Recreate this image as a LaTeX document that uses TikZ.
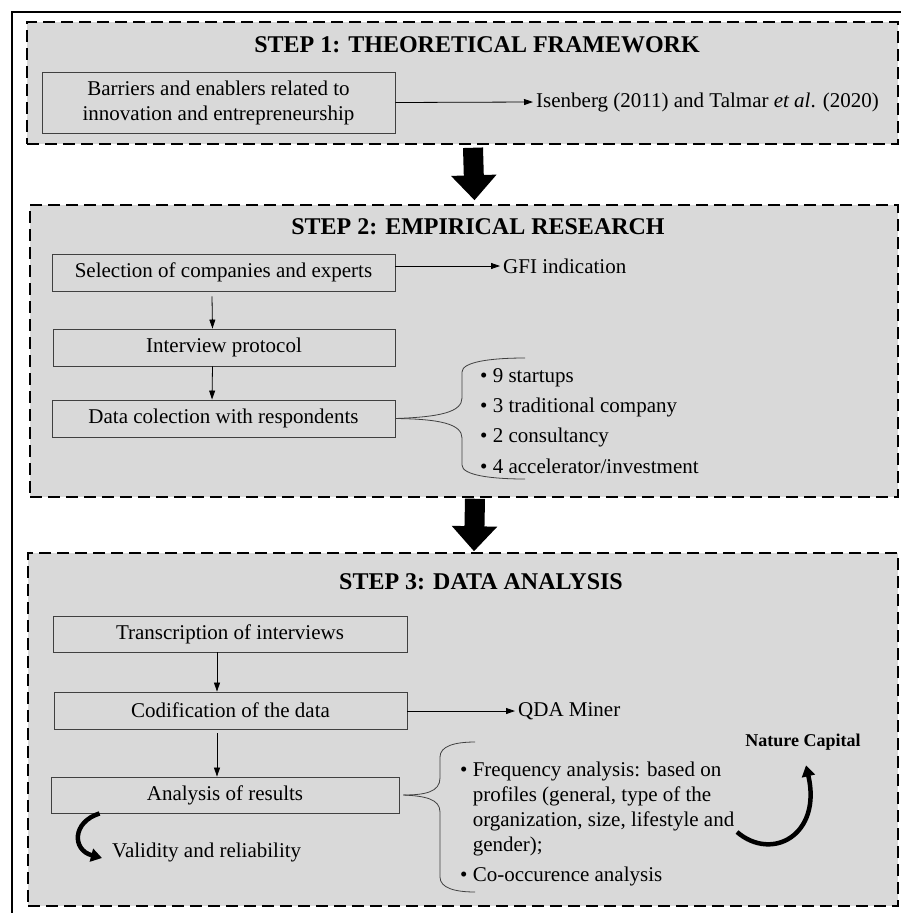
\documentclass[tikz,border=0pt]{standalone}
\usepackage{fontspec}
\setmainfont{Liberation Serif}
\usetikzlibrary{arrows.meta,calc}
\definecolor{panelgray}{HTML}{D9D9D9}
\definecolor{boxline}{HTML}{404040}
\begin{document}
\begin{tikzpicture}[x=1pt,y=-1pt,
    stepframe/.style={draw, fill=panelgray, dash pattern=on 12pt off 6pt, line width=1.5pt, inner sep=0},
    stepbox/.style={draw=boxline, line width=0.9pt, inner sep=0, align=center, font=\fontsize{21}{25}\selectfont},
    steptitle/.style={inner sep=0, font=\fontsize{24}{28}\selectfont\bfseries},
    txt/.style={inner sep=3pt, font=\fontsize{21}{25}\selectfont},
    flow/.style={line width=0.8pt, -{Triangle[length=9pt,width=6pt]}},
    bigarrow/.style={line width=20pt, -{Triangle[length=25pt,width=44pt]}},
    curl/.style={line width=4.5pt, -{Triangle[length=11pt,width=13pt]}},
    bracepath/.style={line width=0.8pt, draw=boxline}]
    \useasboundingbox (0,0) rectangle (901,913);
    \draw[line width=1.5pt] (12,930) |- (920,12);

    \node[stepframe, minimum width=871pt, minimum height=122pt] (frame1) at (462.5,83) {};
    \node[stepframe, minimum width=868pt, minimum height=292pt] (frame2) at (464,351) {};
    \node[stepframe, minimum width=870pt, minimum height=353pt] (frame3) at (463,729.5) {};

    \node[steptitle] (title1) at (477,45) {STEP 1: THEORETICAL FRAMEWORK};
    \node[steptitle] (title2) at (478,227) {STEP 2: EMPIRICAL RESEARCH};
    \node[steptitle] (title3) at (481,582) {STEP 3: DATA ANALYSIS};

    \node[stepbox, minimum width=353pt, minimum height=61pt] (barriers) at (218.5,102.5) {Barriers and enablers related to\\innovation and entrepreneurship};
    \node[txt, anchor=west] (isenberg) at (533,102) {Isenberg (2011) and Talmar \textit{et al}. (2020)};
    \draw[flow] (barriers.east) -- (isenberg.west);

    \node[stepbox, minimum width=343pt, minimum height=37pt] (selection) at (223.5,272.5) {Selection of companies and experts};
    \node[stepbox, minimum width=342pt, minimum height=37pt] (protocol) at (224,347.5) {Interview protocol};
    \node[stepbox, minimum width=343pt, minimum height=37pt] (collection) at (223.5,418.5) {Data colection with respondents};
    \node[txt, anchor=west] (gfi) at (500,266) {GFI indication};
    \draw[flow] (selection.east |- gfi.west) -- (gfi.west);
    \draw[flow] ($(selection.south)+(-11.5,5)$) -- ($(protocol.north)+(-11.5,0)$);
    \draw[flow] ($(protocol.south)+(-11.5,0)$) -- ($(collection.north)+(-11.5,0)$);

    \node[txt, anchor=west] (startups) at (477,378) {• 9 startups};
    \node[txt, anchor=west] (traditional) at (477,407.5) {• 3 traditional company};
    \node[txt, anchor=west] (consultancy) at (477,437) {• 2 consultancy};
    \node[txt, anchor=west] (accelerator) at (477,466.5) {• 4 accelerator/investment};
    \draw[bracepath] (collection.east) .. controls (440,417) and (462,412) .. (462,398) -- (462,372)
        .. controls (462,362) and (490,358) .. (525,358);
    \draw[bracepath] (collection.east) .. controls (440,419) and (462,424) .. (462,438) -- (462,465)
        .. controls (462,475) and (490,479) .. (525,479);

    \draw[bigarrow] ($(frame1.south)+(10.5,3)$) -- ($(frame2.north)+(10.5,-4)$);
    \draw[bigarrow] ($(frame2.south)+(11,1)$) -- ($(frame3.north)+(11,-1)$);

    \node[stepbox, minimum width=354pt, minimum height=36pt] (transcription) at (230,634) {Transcription of interviews};
    \node[stepbox, minimum width=353pt, minimum height=37pt] (codification) at (230.5,710.5) {Codification of the data};
    \node[stepbox, minimum width=348pt, minimum height=36pt] (analysis) at (225,795) {Analysis of results};
    \node[txt, anchor=west] (qda) at (515,711) {QDA Miner};
    \draw[flow] (codification.east |- qda.west) -- (qda.west);
    \draw[flow] ($(transcription.south)+(-13,0)$) -- ($(codification.north)+(-13.5,0)$);
    \draw[flow] ($(codification.south)+(-13.5,4)$) -- ($(analysis.north)+(-8,0)$);

    \node[txt, anchor=west] (validity) at (109,852) {Validity and reliability};
    \draw[curl] ($(analysis.south west)+(49,0)$) .. controls (72,822) and (72,850) .. ($(validity.west)+(-7,6)$);

    \node[txt, anchor=north west, inner sep=0, align=left] (frequency) at (460,762)
        {• Frequency analysis: based on\\\hphantom{• }profiles (general, type of the\\\hphantom{• }organization, size, lifestyle and\\\hphantom{• }gender);};
    \node[txt, anchor=west, inner sep=0] (cooccurence) at (460,876) {• Co-occurence analysis};
    \draw[bracepath] ($(analysis.east)+(4,0)$) .. controls (425,795) and (440,792) .. (440,778) -- (440,757)
        .. controls (440,746) and (455,742) .. (475,742);
    \draw[bracepath] ($(analysis.east)+(4,0)$) .. controls (425,796) and (440,799) .. (440,812) -- (440,877)
        .. controls (440,888) and (455,892) .. (475,892);

    \node[inner sep=0, font=\fontsize{18}{20}\selectfont\bfseries] (nature) at (803,742) {Nature Capital};
    \draw[curl] (737,832) .. controls (772,862) and (822,835) .. ($(nature.south)+(3,15)$);
\end{tikzpicture}
\end{document}
